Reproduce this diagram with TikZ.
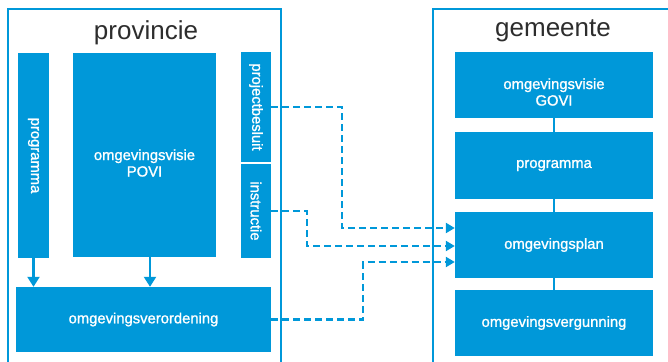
\documentclass[tikz,border=0pt]{standalone}
\usepackage{fontspec}
\setmainfont{Liberation Sans}
\newfontfamily\medfont[FakeBold=1.2]{Liberation Sans}
\usetikzlibrary{arrows.meta,calc}
\definecolor{blu}{RGB}{0,152,217}
\definecolor{ttl}{RGB}{45,45,45}
\begin{document}
\begin{tikzpicture}[x=1pt,y=-1pt,
  box/.style={fill=blu, draw=none, inner sep=0pt},
  boxtext/.style={text=white, inner sep=0pt, align=center, font=\medfont\fontsize{14.8}{16.5}\selectfont},
  frame/.style={draw=blu, line width=2.8pt},
  title/.style={text=ttl, inner sep=0pt, anchor=base, font=\fontsize{26}{28}\selectfont},
  dasharrow/.style={draw=blu, line width=2.2pt, dash pattern=on 7pt off 4pt, -{Triangle[length=9pt,width=10pt]}},
  link/.style={draw=blu, line width=2.2pt},
  downarrow/.style={draw=blu, line width=2.2pt, -{Triangle[length=10pt,width=12pt]}}]
\useasboundingbox (0,0) rectangle (668,361);
\clip (0,0) rectangle (668,361);

% frames
\draw[frame] (8,375) -- (8,9) -- (281,9) -- (281,375);
\draw[frame] (433,375) -- (433,9) -- (690,9);
\node[title] (tprov) at (146,39.5) {provincie};
\node[title] (tgem) at (553,36.5) {gemeente};

% provincie boxes
\node[box, minimum width=31pt, minimum height=205pt] (progP) at (33.5,155.5) {};
\node[boxtext, rotate=-90] (progPt) at (progP.center) {programma};
\node[box, minimum width=143pt, minimum height=204pt] (povi) at (144.5,155) {};
\node[boxtext] (povit) at ($(povi.center)+(0,8)$) {omgevingsvisie\\POVI};
\node[box, minimum width=30pt, minimum height=110pt] (projb) at (256,107) {};
\node[boxtext, rotate=-90] (projbt) at (projb.center) {projectbesluit};
\node[box, minimum width=30pt, minimum height=94pt] (instr) at (256,211) {};
\node[boxtext, rotate=-90] (instrt) at (instr.center) {instructie};
\node[box, minimum width=255pt, minimum height=65pt] (verord) at (143.5,319.5) {};
\node[boxtext] (verordt) at (verord.center) {omgevingsverordening};

% gemeente boxes
\node[box, minimum width=198pt, minimum height=66pt] (govi) at (554,85) {};
\node[boxtext] (govit) at ($(govi.center)+(0,7)$) {omgevingsvisie\\GOVI};
\node[box, minimum width=198pt, minimum height=67pt] (progG) at (554,165.5) {};
\node[boxtext] (progGt) at (progG.center) {programma};
\node[box, minimum width=198pt, minimum height=66pt] (plan) at (554,245) {};
\node[boxtext] (plant) at (plan.center) {omgevingsplan};
\node[box, minimum width=198pt, minimum height=66pt] (vergun) at (554,323) {};
\node[boxtext] (vergunt) at (vergun.center) {omgevingsvergunning};

% gemeente links
\draw[link] (govi.south) -- (progG.north);
\draw[link] (progG.south) -- (plan.north);
\draw[link] (plan.south) -- (vergun.north);

% provincie arrows
\draw[downarrow] (progP.south) -- (progP.south |- verord.north);
\draw[downarrow] ($(povi.south)+(5.5,0)$) -- ($(povi.south |- verord.north)+(5.5,0)$);

% dashed arrows
\draw[dasharrow] (projb.east) -- ++(71,0) |- ($(plan.west)+(0,-17)$);
\draw[dasharrow] (instr.east) -- ++(36,0) |- ($(plan.west)+(0,1)$);
\draw[dasharrow] (verord.east) -- ++(92,0) |- ($(plan.west)+(0,17)$);
\end{tikzpicture}
\end{document}
